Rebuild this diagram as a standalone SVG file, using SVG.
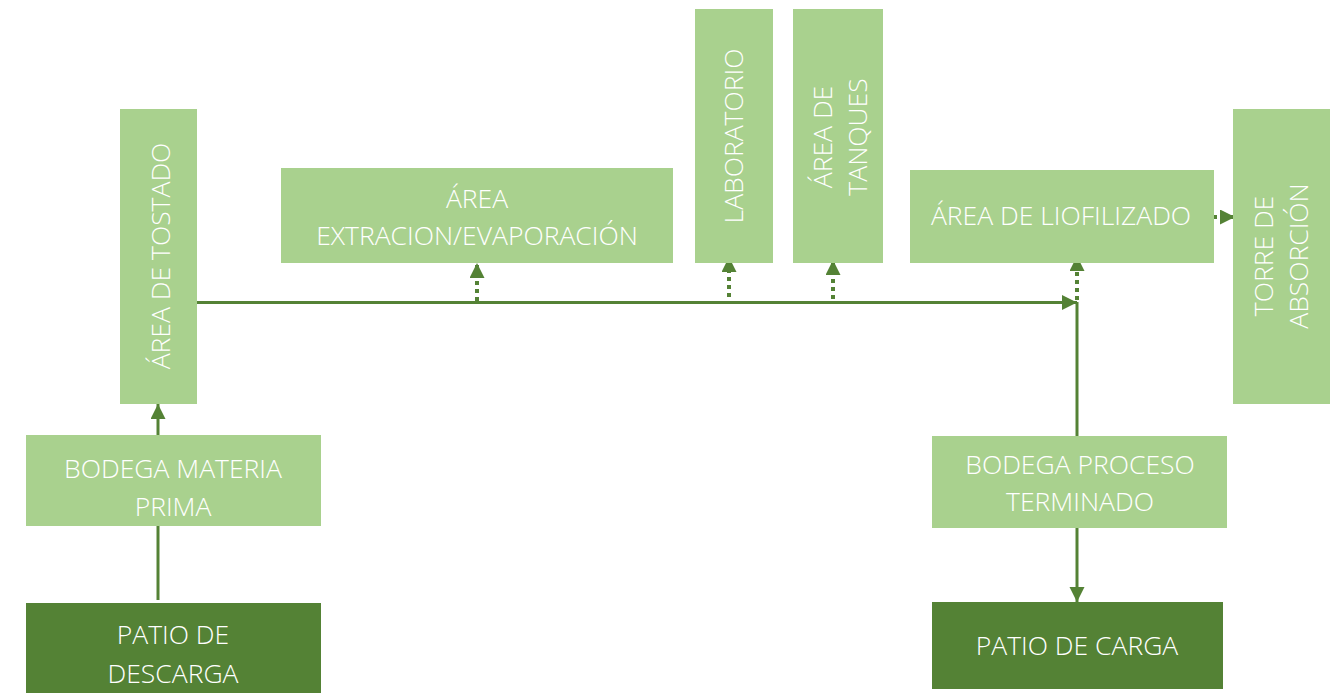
<svg xmlns="http://www.w3.org/2000/svg" width="1338" height="693" viewBox="0 0 1338 693">
  <style>
    .light { fill: #A9D18E; }
    .dark { fill: #548235; }
    .label { fill: #FFFFFF; font-family: "Open Sans", "Liberation Sans", sans-serif; font-size: 26.5px; font-weight: 300; text-anchor: middle; }
    .flow { stroke: #548235; stroke-width: 3; fill: none; }
    .dots { stroke: #548235; stroke-width: 4; fill: none; stroke-dasharray: 4 4; }
  </style>
  <defs>
    <marker id="arrow" markerUnits="userSpaceOnUse" markerWidth="16" markerHeight="16" refX="15" refY="7.5" orient="auto" viewBox="0 0 16 16">
      <path d="M0,0 L15,7.5 L0,15 Z" fill="#548235"/>
    </marker>
  </defs>
  <rect width="1338" height="693" fill="#FFFFFF"/>

  <g id="connectors">
    <line class="flow" x1="158" y1="600" x2="158" y2="526"/>
    <line class="flow" x1="158" y1="435" x2="158" y2="404" marker-end="url(#arrow)"/>
    <line class="flow" x1="197" y1="302.5" x2="1077" y2="302.5" marker-end="url(#arrow)"/>
    <line class="flow" x1="1077" y1="302" x2="1077" y2="436"/>
    <line class="flow" x1="1077" y1="528" x2="1077" y2="602" marker-end="url(#arrow)"/>
    <line class="dots" x1="477" y1="301" x2="477" y2="263" marker-end="url(#arrow)"/>
    <line class="dots" x1="729" y1="297" x2="729" y2="257" marker-end="url(#arrow)"/>
    <line class="dots" x1="833" y1="299" x2="833" y2="260" marker-end="url(#arrow)"/>
    <line class="dots" x1="1077" y1="300" x2="1077" y2="256" marker-end="url(#arrow)"/>
    <line class="dots" x1="1213" y1="217" x2="1235" y2="217" marker-end="url(#arrow)"/>
  </g>

  <g id="area-tostado">
    <rect class="light" x="120" y="109" width="77" height="295"/>
    <text class="label" transform="translate(170,256) rotate(-90)">ÁREA DE TOSTADO</text>
  </g>

  <g id="area-extraccion">
    <rect class="light" x="281" y="168" width="392" height="95"/>
    <text class="label" x="477" y="208">ÁREA</text>
    <text class="label" x="477" y="245">EXTRACION/EVAPORACIÓN</text>
  </g>

  <g id="laboratorio">
    <rect class="light" x="695" y="9" width="78" height="254"/>
    <text class="label" transform="translate(743,136) rotate(-90)">LABORATORIO</text>
  </g>

  <g id="area-tanques">
    <rect class="light" x="793" y="9" width="90" height="254"/>
    <text class="label" transform="translate(832,137) rotate(-90)">ÁREA DE</text>
    <text class="label" transform="translate(867,137) rotate(-90)">TANQUES</text>
  </g>

  <g id="area-liofilizado">
    <rect class="light" x="910" y="170" width="304" height="93"/>
    <text class="label" x="1061" y="225">ÁREA DE LIOFILIZADO</text>
  </g>

  <g id="torre-absorcion">
    <rect class="light" x="1233" y="109" width="97" height="295"/>
    <text class="label" transform="translate(1273,256) rotate(-90)">TORRE DE</text>
    <text class="label" transform="translate(1308,256) rotate(-90)">ABSORCIÓN</text>
  </g>

  <g id="bodega-materia-prima">
    <rect class="light" x="26" y="435" width="295" height="91"/>
    <text class="label" x="173" y="478">BODEGA MATERIA</text>
    <text class="label" x="173" y="516">PRIMA</text>
  </g>

  <g id="patio-descarga">
    <rect class="dark" x="26" y="603" width="295" height="90"/>
    <text class="label" x="173" y="644">PATIO DE</text>
    <text class="label" x="173" y="683">DESCARGA</text>
  </g>

  <g id="bodega-proceso-terminado">
    <rect class="light" x="932" y="436" width="295" height="92"/>
    <text class="label" x="1080" y="474">BODEGA PROCESO</text>
    <text class="label" x="1080" y="511">TERMINADO</text>
  </g>

  <g id="patio-carga">
    <rect class="dark" x="932" y="602" width="291" height="87"/>
    <text class="label" x="1077" y="655">PATIO DE CARGA</text>
  </g>
</svg>
